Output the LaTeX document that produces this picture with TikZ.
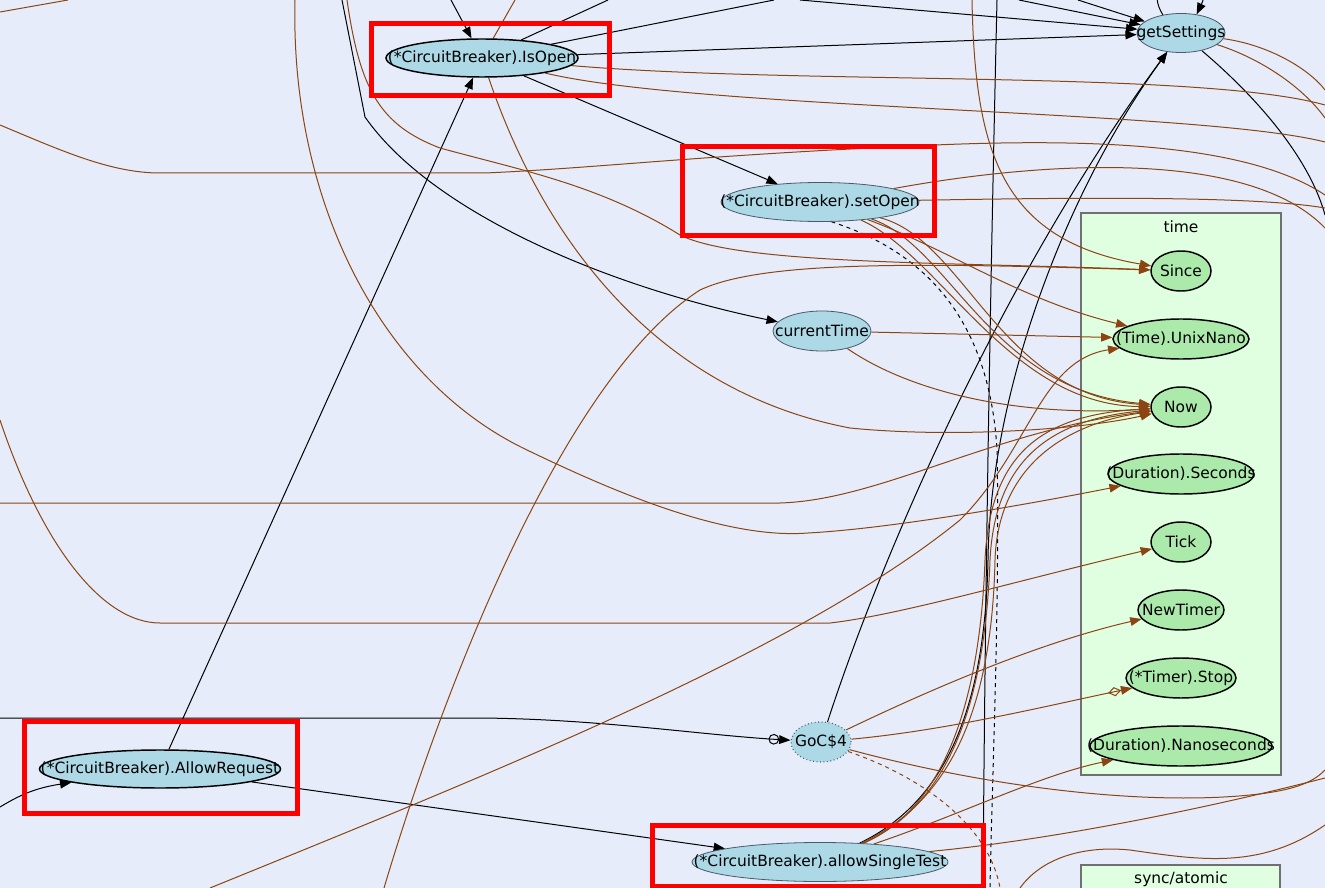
\documentclass[tikz,border=0pt]{standalone}
\usepackage{fontspec}
\setmainfont{DejaVu Sans}
\usetikzlibrary{shapes.geometric,arrows.meta}
\definecolor{bgc}{HTML}{E6ECFA}
\definecolor{nodeblue}{HTML}{ADD8E6}
\definecolor{nodegreen}{HTML}{ACEAAC}
\definecolor{clustfill}{HTML}{E0FFE0}
\definecolor{brn}{HTML}{8B4513}
\definecolor{clustedge}{HTML}{707070}
\definecolor{nodeedge}{HTML}{4A5A66}
\pgfdeclarelayer{back}\pgfdeclarelayer{edges}\pgfdeclarelayer{front}
\pgfsetlayers{back,edges,main,front}
\newcommand\zb[1]{\makebox[0pt]{#1}}
\tikzset{
  cb/.style={ellipse, fill=nodeblue, draw=nodeedge, line width=0.6pt, inner sep=0pt},
  cbk/.style={cb, draw=black, line width=1.1pt},
  gocnode/.style={cb, draw=nodeedge, dotted, line width=0.9pt},
  tn/.style={ellipse, fill=nodegreen, draw=black, line width=1.1pt, inner sep=0pt, minimum height=30pt},
  clusterbox/.style={fill=clustfill, draw=clustedge, line width=0.9pt},
  bk/.style={draw=black, line width=0.75pt, -{Triangle[length=8.5pt,width=6.5pt]}},
  bkl/.style={draw=black, line width=0.75pt},
  br/.style={draw=brn, line width=0.75pt, -{Triangle[length=8.5pt,width=6.5pt]}},
  bl/.style={draw=brn, line width=0.75pt},
  brd/.style={draw=brn, line width=0.75pt, -{Diamond[open,length=10pt,width=7pt]Triangle[length=8.5pt,width=6.5pt]}},
  ocirc/.style={draw=black, line width=0.75pt, -{Circle[open,length=8pt,width=8pt]Triangle[length=8.5pt,width=6.5pt]}},
  hl/.style={draw=red, line width=3.75pt}
}
\begin{document}
\begin{tikzpicture}[x=0.75pt,y=-0.75pt,font=\fontsize{11.6pt}{13pt}\selectfont]
\useasboundingbox (0,0) rectangle (1325,888);
\begin{pgfonlayer}{back}
  \fill[bgc] (0,0) rectangle (1325,888);
  \draw[clusterbox] (1081,213) rectangle (1281,775);
  \node (timelbl) at (1181,227) {time};
  \draw[clusterbox] (1081,865) rectangle (1280,900);
  \node (synclbl) at (1181,879) {sync/atomic};
\end{pgfonlayer}

% nodes
\node[cbk, minimum width=144pt, minimum height=28.5pt] (isopen) at (482,58) {\zb{(*CircuitBreaker).IsOpen}};
\node[cb, minimum width=148.5pt, minimum height=29.25pt] (setopen) at (820,202) {\zb{(*CircuitBreaker).setOpen}};
\node[cb, minimum width=66pt, minimum height=29.25pt] (getset) at (1181,33) {\zb{getSettings}};
\node[cb, minimum width=73.5pt, minimum height=30pt] (curtime) at (822,331) {\zb{currentTime}};
\node[cbk, minimum width=180.75pt, minimum height=28.5pt] (allowreq) at (160,769) {\zb{(*CircuitBreaker).AllowRequest}};
\node[cb, minimum width=192pt, minimum height=29.25pt] (allowsingle) at (820,862) {\zb{(*CircuitBreaker).allowSingleTest}};
\node[gocnode, minimum width=45pt, minimum height=30pt] (goc) at (821,742) {\zb{GoC\$4}};
\node[tn, minimum width=45pt] (since) at (1181,271) {\zb{Since}};
\node[tn, minimum width=102pt] (unixnano) at (1181,339) {\zb{(Time).UnixNano}};
\node[tn, minimum width=45pt] (now) at (1181,407) {\zb{Now}};
\node[tn, minimum width=109.5pt] (seconds) at (1181,474) {\zb{(Duration).Seconds}};
\node[tn, minimum width=45pt] (tick) at (1181,542) {\zb{Tick}};
\node[tn, minimum width=64.5pt] (newtimer) at (1181,610) {\zb{NewTimer}};
\node[tn, minimum width=82.5pt] (stop) at (1181,678) {\zb{(*Timer).Stop}};
\node[tn, minimum width=136.5pt] (nanos) at (1181,746) {\zb{(Duration).Nanoseconds}};

% free ends
\coordinate (t1) at (451,0); \coordinate (t2) at (608,0); \coordinate (t3) at (774,0);
\coordinate (t4) at (800,0); \coordinate (t5) at (1019,0); \coordinate (t6) at (1078,0);
\coordinate (t7) at (342,0); \coordinate (t8) at (997,0); \coordinate (t9) at (68,0);
\coordinate (t10) at (347,0); \coordinate (t11) at (295,0); \coordinate (t12) at (972,0);
\coordinate (t13) at (515,0);
\coordinate (b1) at (990,888); \coordinate (b2) at (983,888); \coordinate (b3) at (384,888);
\coordinate (b4) at (210,888); \coordinate (b5) at (1000,888); \coordinate (b6) at (1020,888);
\coordinate (l1) at (0,718); \coordinate (l2) at (0,807); \coordinate (l3) at (0,12);
\coordinate (l4) at (0,125); \coordinate (l5) at (0,420); \coordinate (l6) at (0,503);
\coordinate (r1) at (1325,215); \coordinate (r2) at (1325,195); \coordinate (r3) at (1325,228);
\coordinate (r4) at (1325,208); \coordinate (r5) at (1325,90); \coordinate (r6) at (1325,118);
\coordinate (r7) at (1325,105); \coordinate (r8) at (1325,142); \coordinate (r9) at (1325,778);
\coordinate (r10) at (1325,770); \coordinate (r11) at (1325,825);

\begin{pgfonlayer}{edges}
  \clip (0,0) rectangle (1325,888);
  % black edges
  \draw[bk] (t1) -- (isopen);
  \draw[bk] (allowreq) -- (isopen);
  \draw[bk] (isopen) -- (getset);
  \draw[bk] (isopen) -- (setopen);
  \draw[bkl] (isopen) -- (t2);
  \draw[bkl] (isopen) -- (t3);
  \draw[bk] (t4) -- (getset);
  \draw[bk] (t5) -- (getset);
  \draw[bk] (t6) -- (getset);
  \draw[bk] (getset.135) .. controls (1135,-30) and (1220,-35) .. (getset.50);
  \draw[bkl, dashed] (setopen.-60) .. controls (935,255) and (990,330) .. (997,450) .. controls (1000,600) and (992,780) .. (b1);
  \draw[bk] (t7) -- (365,117) .. controls (430,210) and (600,285) .. (curtime);
  \draw[bk] (goc) .. controls (880,560) and (1000,280) .. (getset);
  \draw[bk] (allowsingle) .. controls (950,800) and (985,700) .. (988,560) .. controls (990,400) and (1060,200) .. (getset);
  \draw[bkl] (t8) .. controls (990,300) and (985,600) .. (b2);
  \draw[ocirc] (l1) -- (480,718) .. controls (600,719) and (700,735) .. (goc);
  \draw[bk] (l2) .. controls (20,795) and (35,788) .. (allowreq);
  \draw[bk] (allowreq) -- (allowsingle);
  \draw[bkl] (getset) .. controls (1260,100) and (1310,160) .. (r1);
  % brown edges
  \draw[bl] (l3) -- (t9);
  \draw[bl] (l4) .. controls (60,150) and (110,173) .. (160,173) -- (485,173) .. controls (600,168) and (700,155) .. (935,145) .. controls (1100,138) and (1250,145) .. (r2);
  \draw[br] (t10) .. controls (360,90) and (380,125) .. (440,148) .. controls (520,170) and (600,185) .. (680,235) .. controls (740,265) and (950,262) .. (since);
  \draw[br] (t11) .. controls (290,200) and (380,380) .. (527,450) .. controls (600,485) and (720,540) .. (808,533) .. controls (900,528) and (1050,500) .. (seconds);
  \draw[br] (b3) .. controls (440,700) and (560,380) .. (700,290) .. controls (760,262) and (900,262) .. (since);
  \draw[br] (t12) .. controls (975,150) and (1000,240) .. (since);
  \draw[br] (isopen) .. controls (540,230) and (650,390) .. (850,428) .. controls (950,438) and (1080,430) .. (now);
  \draw[br] (setopen) .. controls (950,250) and (1020,300) .. (unixnano);
  \draw[br] (setopen) .. controls (950,245) and (990,390) .. (now);
  \draw[br] (setopen) .. controls (965,240) and (1000,395) .. (now);
  \draw[br] (setopen) .. controls (940,255) and (1010,405) .. (now);
  \draw[br] (curtime) -- (unixnano);
  \draw[br] (curtime) .. controls (900,385) and (1000,418) .. (now);
  \draw[bl] (setopen) .. controls (1050,160) and (1250,150) .. (r3);
  \draw[bl] (setopen) .. controls (1050,198) and (1250,195) .. (r4);
  \draw[bl] (getset) .. controls (1270,45) and (1310,70) .. (r5);
  \draw[bl] (getset) .. controls (1265,60) and (1305,90) .. (r6);
  \draw[bl] (isopen) .. controls (800,85) and (1200,70) .. (r7);
  \draw[bl] (isopen) .. controls (700,110) and (1200,110) .. (r8);
  \draw[bl] (t13) -- (isopen);
  \draw[br] (l5) .. controls (40,540) and (100,623) .. (160,623) -- (830,623) .. controls (900,615) and (1020,580) .. (tick);
  \draw[br] (l6) -- (780,503) .. controls (880,500) and (990,432) .. (now);
  \draw[br] (b4) .. controls (500,770) and (800,650) .. (960,520) .. controls (1030,450) and (1040,360) .. (unixnano);
  \draw[br] (allowsingle) .. controls (950,805) and (985,700) .. (990,560) .. controls (995,460) and (1050,420) .. (now);
  \draw[br] (allowsingle) .. controls (955,800) and (992,700) .. (995,560) .. controls (998,470) and (1060,425) .. (now);
  \draw[br] (allowsingle) .. controls (945,808) and (980,700) .. (985,560) .. controls (990,455) and (1040,415) .. (now);
  \draw[br] (allowsingle) .. controls (960,815) and (1040,775) .. (nanos);
  \draw[bl] (allowsingle) .. controls (1050,840) and (1200,810) .. (r9);
  \draw[br] (goc) .. controls (950,680) and (1050,640) .. (newtimer);
  \draw[brd] (goc) .. controls (950,730) and (1050,705) .. (stop);
  \draw[bl] (goc) .. controls (1000,790) and (1150,805) .. (1250,795) .. controls (1300,790) and (1315,780) .. (r10);
  \draw[bl, dashed] (goc) .. controls (930,780) and (990,830) .. (b5);
  \draw[bl] (b6) .. controls (1040,860) and (1080,845) .. (1130,850) .. controls (1200,860) and (1260,870) .. (r11);
\end{pgfonlayer}

\begin{pgfonlayer}{front}
  \draw[hl] (371,24) rectangle (609,96);
  \draw[hl] (682,147) rectangle (934,236);
  \draw[hl] (24,721) rectangle (297,813);
  \draw[hl] (652,825) rectangle (983,886);
\end{pgfonlayer}
\end{tikzpicture}
\end{document}
